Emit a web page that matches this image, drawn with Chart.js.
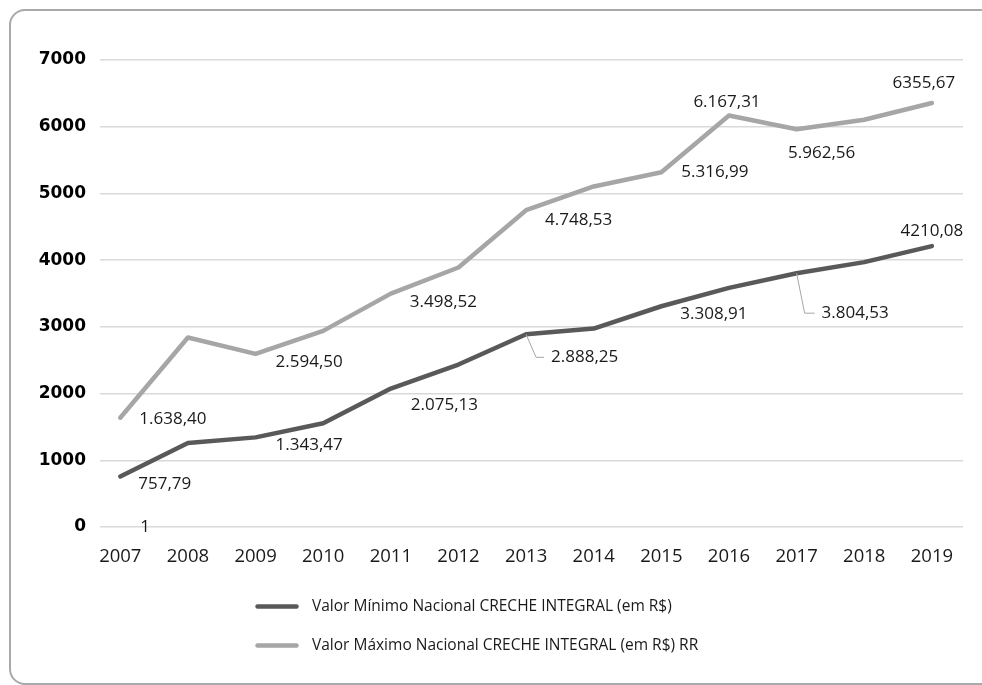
<!DOCTYPE html>
<html>
<head>
<meta charset="utf-8">
<script src="https://cdn.jsdelivr.net/npm/chart.js@4.4.1/dist/chart.umd.min.js"></script>
<style>
  html, body { margin: 0; padding: 0; background: #fff; overflow: hidden; }
  #wrap { position: relative; width: 982px; height: 685px; overflow: hidden; }
  #frame { position: absolute; left: 9px; top: 9px; width: 1000px; height: 672px; border: 2px solid #a9a9a9; border-radius: 16px; pointer-events: none; }
  canvas { position: absolute; left: 0; top: 0; }
</style>
</head>
<body>
<div id="wrap">
  <canvas id="myChart" width="982" height="685"></canvas>
  <div id="frame"></div>
</div>
<script>
const years = [2007, 2008, 2009, 2010, 2011, 2012, 2013, 2014, 2015, 2016, 2017, 2018, 2019];
const minValues = [757.79, 1260, 1343.47, 1555, 2075.13, 2435, 2888.25, 2975, 3308.91, 3585, 3804.53, 3970, 4210.08];
const maxValues = [1638.40, 2840, 2594.50, 2940, 3498.52, 3890, 4748.53, 5105, 5316.99, 6167.31, 5962.56, 6105, 6355.67];
// stray "1" label sitting on the zero line at 2007
const zeroYears = [2007];
const zeroValues = [1];
const seriesNames = [
	'Valor Mínimo Nacional CRECHE INTEGRAL (em R$)',
	'Valor Máximo Nacional CRECHE INTEGRAL (em R$) RR'
];

const toPoints = (xs, ys) => xs.map((x, i) => ({ x: x, y: ys[i] }));

function fmtValue(v, grouped) {
	if (Number.isInteger(v)) return String(v);
	let [int, dec] = v.toFixed(2).split('.');
	if (grouped) int = int.replace(/\B(?=(\d{3})+(?!\d))/g, '.');
	return int + ',' + dec;
}

// value labels, with optional leader lines
const valueLabels = {
	id: 'valueLabels',
	afterDatasetsDraw(chart, args, opts) {
		const ctx = chart.ctx;
		ctx.save();
		ctx.font = opts.font;
		ctx.textBaseline = 'middle';
		opts.spots.forEach(s => {
			const el = chart.getDatasetMeta(s.ds).data[s.i];
			const raw = chart.data.datasets[s.ds].data[s.i].y;
			const tx = el.x + s.dx, ty = el.y + s.dy;
			if (s.leader) {
				ctx.strokeStyle = '#a6a6a6';
				ctx.lineWidth = 1;
				ctx.beginPath();
				ctx.moveTo(el.x, el.y);
				ctx.lineTo(el.x + s.leader, ty);
				ctx.lineTo(tx - 7, ty);
				ctx.stroke();
			}
			ctx.fillStyle = opts.color;
			ctx.textAlign = s.align || 'left';
			ctx.fillText(fmtValue(raw, s.grouped !== false), tx, ty);
		});
		ctx.restore();
	}
};

// two-row legend, left aligned
const stackedLegend = {
	id: 'stackedLegend',
	afterDraw(chart, args, opts) {
		const ctx = chart.ctx;
		ctx.save();
		ctx.font = opts.font;
		ctx.textBaseline = 'middle';
		ctx.textAlign = 'left';
		opts.rows.forEach((y, k) => {
			const ds = chart.data.datasets[k];
			ctx.strokeStyle = ds.borderColor;
			ctx.lineWidth = ds.borderWidth;
			ctx.lineCap = 'round';
			ctx.beginPath();
			ctx.moveTo(opts.x, y);
			ctx.lineTo(opts.x + opts.lineLength, y);
			ctx.stroke();
			ctx.fillStyle = opts.color;
			ctx.fillText(ds.label, opts.textX, y);
		});
		ctx.restore();
	}
};

const ctx = document.getElementById('myChart');
new Chart(ctx, {
	type: 'line',
	data: {
		datasets: [{
			label: seriesNames[0],
			data: toPoints(years, minValues),
			borderColor: '#595959',
			backgroundColor: 'transparent',
			borderWidth: 4.5,
			borderCapStyle: 'round',
			borderJoinStyle: 'round',
			tension: 0,
			pointRadius: 0,
		},
		{
			label: seriesNames[1],
			data: toPoints(years, maxValues),
			borderColor: '#a6a6a6',
			backgroundColor: 'transparent',
			borderWidth: 4.5,
			borderCapStyle: 'round',
			borderJoinStyle: 'round',
			tension: 0,
			pointRadius: 0,
		},
		{
			label: '',
			data: toPoints(zeroYears, zeroValues),
			borderColor: 'transparent',
			borderWidth: 0,
			pointRadius: 0,
		}]
	},
	plugins: [valueLabels, stackedLegend],
	options: {
		responsive: false,
		animation: false,
		events: [],
		layout: {
			padding: { top: 60, right: 19, bottom: 108, left: 0 }
		},
		plugins: {
			legend: { display: false },
			tooltip: { enabled: false },
			valueLabels: {
				font: "17px 'Open Sans', sans-serif",
				color: '#1a1a1a',
				spots: [
					{ ds: 0, i: 0, dx: 18, dy: 8 },
					{ ds: 0, i: 2, dx: 20, dy: 8 },
					{ ds: 0, i: 4, dx: 20, dy: 17 },
					{ ds: 0, i: 6, dx: 25, dy: 23, leader: 10 },
					{ ds: 0, i: 8, dx: 19, dy: 8 },
					{ ds: 0, i: 10, dx: 25, dy: 40, leader: 8 },
					{ ds: 0, i: 12, dx: 0, dy: -15, align: 'center', grouped: false },
					{ ds: 1, i: 0, dx: 19, dy: 1 },
					{ ds: 1, i: 2, dx: 20, dy: 8 },
					{ ds: 1, i: 4, dx: 19, dy: 9 },
					{ ds: 1, i: 6, dx: 19, dy: 10 },
					{ ds: 1, i: 8, dx: 20, dy: 0 },
					{ ds: 1, i: 9, dx: -2, dy: -13, align: 'center' },
					{ ds: 1, i: 10, dx: 25, dy: 24, align: 'center' },
					{ ds: 1, i: 12, dx: -8, dy: -20, align: 'center', grouped: false },
					{ ds: 2, i: 0, dx: 20, dy: 0 },
				]
			},
			stackedLegend: {
				font: "15.5px 'Open Sans', sans-serif",
				color: '#1a1a1a',
				x: 257.5,
				lineLength: 39,
				textX: 312,
				rows: [606.5, 645.5]
			}
		},
		scales: {
			x: {
				type: 'linear',
				min: 2006.7,
				max: 2019.46,
				grid: { display: false, drawTicks: false },
				border: { display: false },
				ticks: {
					stepSize: 1,
					includeBounds: false,
					autoSkip: false,
					maxRotation: 0,
					padding: 19,
					color: '#1a1a1a',
					font: { family: "'Open Sans', sans-serif", size: 18.5 },
					callback: v => String(v),
				},
				afterFit: s => { s.height = 50; }
			},
			y: {
				min: 0,
				max: 7000,
				border: { display: false },
				grid: { color: '#d9d9d9', lineWidth: 1.5, drawTicks: false },
				ticks: {
					stepSize: 1000,
					padding: 14,
					color: '#000000',
					font: { family: "'DejaVu Sans', sans-serif", size: 17, weight: 'bold' },
					callback: v => String(v),
				},
				afterFit: s => { s.width = 100; }
			}
		}
	}
});
</script>
</body>
</html>
